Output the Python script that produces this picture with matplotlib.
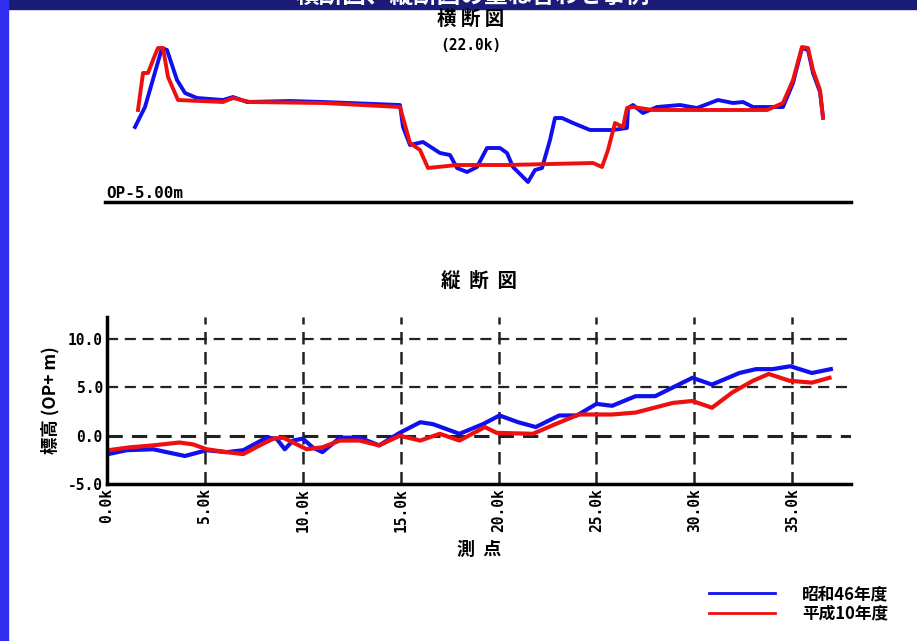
import numpy as np
import matplotlib.pyplot as plt
from matplotlib.patches import Rectangle
from matplotlib.lines import Line2D

plt.rcParams['font.family'] = ['Noto Sans CJK JP', 'DejaVu Sans']
plt.rcParams['font.weight'] = 'bold'
plt.rcParams['axes.labelweight'] = 'bold'
plt.rcParams['axes.titleweight'] = 'bold'

# 横断図 (22.0k)  distance [m], elevation [OP m]
cross_x_s46 = [15, 20, 28.5, 31, 36, 40, 46, 59, 64, 71, 92.5, 109, 147.5, 149, 152.5, 159,
               167.5, 172.5, 176, 181, 186, 191, 197.5, 201, 204, 211.5, 215, 218.5, 222.5,
               225, 228.5, 234, 242.5, 254, 261, 261.5, 264, 269, 276, 287.5, 296, 306.5,
               314, 319, 324, 339, 344, 348.5, 351.5, 354, 357.5, 359]
cross_y_s46 = [2.5, 4.5, 10.4, 10.2, 7.2, 5.9, 5.4, 5.2, 5.5, 5.0, 5.1, 5.0, 4.7, 2.5, 0.7, 1.0,
               -0.1, -0.3, -1.6, -2.0, -1.5, 0.4, 0.4, -0.1, -1.5, -3.0, -1.8, -1.6, 1.2,
               3.4, 3.4, 2.9, 2.2, 2.2, 2.4, 4.4, 4.7, 3.9, 4.5, 4.7, 4.4, 5.2,
               4.9, 5.0, 4.5, 4.5, 6.9, 10.4, 10.2, 7.9, 6.0, 3.5]
cross_x_h10 = [16.5, 19, 21.5, 25, 26.5, 29, 31.5, 36.5, 59, 64, 72.5, 109, 147.5, 152.5,
               157.5, 161.5, 176, 201, 244, 248.5, 251.5, 255, 259, 261, 264, 274, 304,
               331, 339, 344, 348.5, 351.5, 354, 357.5, 359]
cross_y_h10 = [4.2, 7.9, 7.9, 9.7, 10.4, 10.4, 7.5, 5.2, 5.0, 5.4, 5.0, 4.9, 4.5, 0.9,
               0.2, -1.6, -1.3, -1.3, -1.1, -1.5, 0.2, 2.9, 2.5, 4.4, 4.5, 4.2, 4.2,
               4.2, 4.9, 7.2, 10.5, 10.4, 8.2, 6.2, 3.4]

# 縦断図  station [km], elevation [OP+ m]
long_x_s46 = [0.07, 1.0, 2.36, 3.05, 3.98, 5.09, 6.1, 6.96, 8.15, 8.66, 9.08, 9.5, 10.0,
              10.5, 11.0, 11.9, 12.9, 13.9, 14.95, 16.0, 16.65, 18.0, 19.2, 20.05, 21.0,
              21.9, 23.1, 24.0, 25.0, 25.8, 27.0, 28.0, 29.9, 30.9, 32.3, 33.15, 34.0,
              34.9, 36.0, 36.97]
long_y_s46 = [-1.9, -1.5, -1.4, -1.7, -2.1, -1.5, -1.7, -1.5, -0.2, -0.3, -1.4, -0.5, -0.3,
              -1.2, -1.7, -0.2, -0.2, -1.0, 0.3, 1.4, 1.2, 0.2, 1.2, 2.1, 1.4,
              0.9, 2.1, 2.1, 3.3, 3.1, 4.1, 4.1, 6.0, 5.3, 6.5, 6.9, 6.9,
              7.2, 6.5, 6.9]
long_x_h10 = [0.07, 1.17, 2.36, 3.7, 4.4, 5.09, 6.1, 6.96, 7.8, 8.5, 9.0, 9.5, 10.2, 11.0,
              11.9, 12.9, 13.9, 14.95, 16.0, 17.0, 18.0, 19.3, 19.9, 21.75, 22.9, 24.1,
              25.8, 27.0, 28.9, 29.9, 30.9, 31.95, 33.0, 33.8, 34.85, 36.0, 36.9]
long_y_h10 = [-1.5, -1.2, -1.0, -0.7, -0.9, -1.4, -1.7, -1.9, -1.0, -0.3, -0.2, -0.7, -1.4, -1.2,
              -0.5, -0.5, -1.0, 0.0, -0.5, 0.2, -0.5, 0.9, 0.3, 0.2, 1.2, 2.2,
              2.2, 2.4, 3.4, 3.6, 2.9, 4.5, 5.7, 6.4, 5.7, 5.5, 6.0]

x_ticks = [0, 5, 10, 15, 20, 25, 30, 35]
x_labels = ['0.0k', '5.0k', '10.0k', '15.0k', '20.0k', '25.0k', '30.0k', '35.0k']
y_ticks = [-5, 0, 5, 10]
y_labels = ['-5.0', '0.0', '5.0', '10.0']

blue = '#1010ee'
red = '#ee1010'

fig = plt.figure(figsize=(9.17, 6.41), dpi=100)

# slide background strips
fig.patches.append(Rectangle((0, 1 - 9 / 641), 1, 9 / 641, transform=fig.transFigure,
                             color='#1b1b78', zorder=0))
fig.patches.append(Rectangle((0, 0), 8 / 917, 1, transform=fig.transFigure,
                             color='#2f2ff0', zorder=0))
fig.text(0.515, 1 - 8 / 641, '横断図、縦断図の重ね合わせ事例', color='white', fontsize=17,
         ha='center', va='bottom')

# --- 横断図 ---
ax1 = fig.add_axes([105 / 917, 1 - 202 / 641, 746 / 917, 172 / 641])
ax1.plot(cross_x_s46, cross_y_s46, color=blue, lw=2.8)
ax1.plot(cross_x_h10, cross_y_h10, color=red, lw=2.8)
ax1.set_xlim(0, 373)
ax1.set_ylim(-5, 12.2)
for s in ['top', 'right', 'left']:
    ax1.spines[s].set_visible(False)
ax1.spines['bottom'].set_linewidth(2.5)
ax1.set_xticks([])
ax1.set_yticks([])
ax1.text(0.002, 0.005, 'OP-5.00m', transform=ax1.transAxes, fontsize=11.5,
         family='DejaVu Sans Mono', fontweight='bold', va='bottom')
fig.text(0.513, 1 - 19 / 641, '横 断 図', fontsize=14, ha='center', va='center')
fig.text(0.513, 1 - 46 / 641, '(22.0k)', fontsize=10.5, ha='center', va='center',
         family='DejaVu Sans Mono')

# --- 縦断図 ---
ax2 = fig.add_axes([107 / 917, 1 - 484 / 641, 744 / 917, 167 / 641])
ax2.plot(long_x_s46, long_y_s46, color=blue, lw=3)
ax2.plot(long_x_h10, long_y_h10, color=red, lw=3)
ax2.set_xlim(0, 38)
ax2.set_ylim(-5, 12.3)
for s in ['top', 'right']:
    ax2.spines[s].set_visible(False)
ax2.spines['bottom'].set_linewidth(2.5)
ax2.spines['left'].set_linewidth(2.5)
for v in x_ticks[1:]:
    ax2.axvline(v, color='#222222', lw=1.8, ls=(0, (5, 3)), zorder=0)
for h in [0, 5, 10]:
    ax2.axhline(h, color='#222222', lw=2.2 if h == 0 else 1.6, ls=(0, (5, 3)), zorder=0)
ax2.set_xticks(x_ticks)
ax2.set_xticklabels(x_labels, rotation=90, fontsize=10.5, family='DejaVu Sans Mono',
                    fontweight='bold')
ax2.set_yticks(y_ticks)
ax2.set_yticklabels(y_labels, fontsize=10.5, family='DejaVu Sans Mono', fontweight='bold')
ax2.tick_params(length=0, pad=3)
ax2.set_ylabel('標高 (OP+ m)', fontsize=12.5, labelpad=6)
ax2.set_xlabel('測  点', fontsize=13, labelpad=6)
ax2.set_title('縦  断  図', fontsize=14, pad=22)

handles = [Line2D([], [], color=blue, lw=2), Line2D([], [], color=red, lw=2)]
fig.legend(handles, ['昭和46年度', '平成10年度'], loc='lower right',
           bbox_to_anchor=(0.985, 0.005), frameon=False, fontsize=12,
           handlelength=4, handletextpad=1.6, labelspacing=0.1)

fig.savefig('out.png', dpi=100)
